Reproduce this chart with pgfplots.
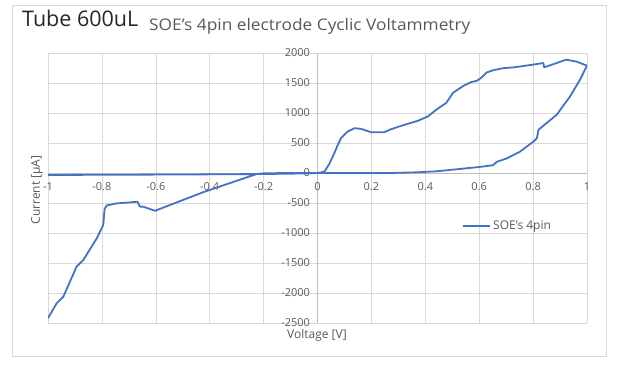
\documentclass[border=0pt]{standalone}
\usepackage{pgfplots}
\pgfplotsset{compat=1.18}
\usepackage{fontspec}
\setmainfont{Open Sans}
\definecolor{xlblue}{HTML}{4472C4}
\definecolor{gridc}{HTML}{D9D9D9}
\definecolor{axc}{HTML}{BFBFBF}
\definecolor{txtc}{HTML}{595959}
\begin{document}
\begin{tikzpicture}[x=1pt,y=1pt]
\path (0,0) rectangle (619,366);
\draw[gridc] (12,10) rectangle (606,361);
\node[anchor=base west, inner sep=0, font=\fontsize{21.5}{24}\selectfont, text=black!85] at (22,339) {Tube 600uL};
\node[anchor=base west, inner sep=0, xscale=1.08, font=\fontsize{16}{18}\selectfont, text=txtc] at (149,335) {SOE's 4pin electrode Cyclic Voltammetry};
\node[rotate=90, font=\fontsize{12}{14}\selectfont, text=txtc] at (37,176) {Current [µA]};
\node[font=\fontsize{12}{14}\selectfont, text=txtc] at (317,31) {Voltage [V]};
\begin{axis}[
  at={(48pt,43pt)}, anchor=south west,
  scale only axis, width=539pt, height=270pt,
  xmin=-1, xmax=1, ymin=-2500, ymax=2000,
  axis lines=middle,
  axis line style={-, draw=axc},
  xtick={-1,-0.8,-0.6,-0.4,-0.2,0,0.2,0.4,0.6,0.8,1},
  ytick={-2500,-2000,-1500,-1000,-500,0,500,1000,1500,2000},
  hide obscured x ticks=false, hide obscured y ticks=false,
  grid=major, grid style={gridc, line width=0.6pt},
  major tick length=0pt,
  scaled ticks=false,
  /pgf/number format/assume math mode=true,
  /pgf/number format/1000 sep={},
  tick label style={text=txtc, font=\fontsize{11}{12}\selectfont},
  xticklabel style={yshift=-6pt},
  yticklabel style={xshift=-4pt},
  legend style={at={(axis cs:0.537,-880)}, anchor=west, draw=none, fill=none, font=\fontsize{12}{14}\selectfont, text=txtc, inner sep=0pt},
  legend image code/.code={\draw[#1, line width=1.8pt] (0pt,0pt) -- (27pt,0pt);},
  legend cell align=left,
]
\addplot[xlblue, line width=1.8pt, line join=round] coordinates {
(-1,-33) (-0.5,-25) (-0.2,-17) (-0.05,-8) (0,0) (0.1,0) (0.267,0) (0.366,11) (0.441,28) (0.516,62) (0.602,101) (0.652,130) (0.665,186) (0.702,243) (0.751,354) (0.801,523) (0.814,580) (0.820,720) (0.888,973) (0.938,1282) (0.975,1563) (1.0,1788)
(0.963,1854) (0.923,1889) (0.876,1815) (0.841,1761) (0.838,1833) (0.789,1799) (0.727,1760) (0.689,1747) (0.652,1713) (0.627,1674) (0.609,1590) (0.590,1534) (0.571,1517) (0.540,1449) (0.503,1337) (0.478,1169) (0.441,1056) (0.410,944) (0.373,871) (0.311,787) (0.273,730) (0.248,680) (0.199,680) (0.161,736) (0.137,747) (0.112,691) (0.087,579) (0.075,466) (0.062,326) (0.043,146) (0.025,20) (0,0)
(-0.1,0) (-0.2,-5) (-0.226,-17) (-0.424,-320) (-0.603,-630) (-0.647,-561) (-0.659,-560) (-0.668,-478) (-0.696,-490) (-0.745,-506) (-0.782,-540) (-0.790,-600) (-0.795,-867) (-0.819,-1089) (-0.869,-1450) (-0.894,-1561) (-0.943,-2061) (-0.968,-2172) (-1,-2420)
};
\addlegendentry{SOE's 4pin}
\end{axis}
\end{tikzpicture}
\end{document}
